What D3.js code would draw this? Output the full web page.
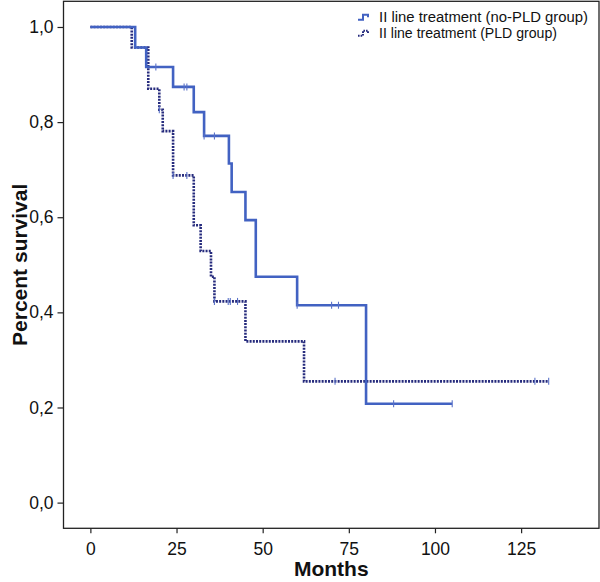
<!DOCTYPE html>
<html><head><meta charset="utf-8">
<script src="https://cdn.jsdelivr.net/npm/d3@7"></script>
<style>body{margin:0;background:#fff}svg{display:block}</style>
</head><body>
<svg id="c" width="600" height="582"></svg>
<script>
// ---- data ----
const seriesNames = ["II line treatment (no-PLD group)", "II line treatment (PLD group)"];
const noPldTimes = [0, 13, 16.2, 24, 30, 33, 40.2, 41, 45, 48, 60, 80];
const noPldSurv  = [1.0, 0.957, 0.916, 0.874, 0.821, 0.771, 0.713, 0.653, 0.594, 0.475, 0.415, 0.208];
const noPldEnd = 105;
const noPldCensor = [19, 27.2, 28, 33, 36, 60, 70, 72, 88, 105];
const pldTimes = [0, 12, 16.8, 20, 21, 24, 30, 32, 35, 36, 45, 62];
const pldSurv  = [1.0, 0.957, 0.870, 0.826, 0.781, 0.688, 0.583, 0.529, 0.475, 0.423, 0.339, 0.255];
const pldEnd = 133;
const pldCensor = [20, 24, 28, 36, 40, 40.6, 42.7, 71, 129, 133];
const xTicks = [0, 25, 50, 75, 100, 125];
const yTicks = [0, 0.2, 0.4, 0.6, 0.8, 1.0];

// ---- drawing ----
const svg = d3.select("#c");
const font = "'Liberation Sans', Arial, Helvetica, sans-serif";
const x = d3.scaleLinear().domain([-7.8, 147.6]).range([63.5, 599]);
const y = d3.scaleLinear().domain([-0.054, 1.054]).range([528.3, 1.3]);
const solidCol = "#4262c2", dotCol = "#262b7d", tickCol = "#5a72c8";

function stepPoints(times, surv, end) {
  const pts = times.map((t, i) => [t, surv[i]]);
  pts.push([end, surv[surv.length - 1]]);
  return pts;
}
function survAt(times, surv, t) {
  let v = surv[0];
  for (let i = 0; i < times.length; i++) if (times[i] <= t) v = surv[i];
  return v;
}
const line = d3.line().x(d => x(d[0])).y(d => y(d[1])).curve(d3.curveStepAfter);

// frame
svg.append("rect").attr("x", x(-7.8)).attr("y", y(1.054))
  .attr("width", x(147.6) - x(-7.8)).attr("height", y(-0.054) - y(1.054))
  .attr("fill", "none").attr("stroke", "#222").attr("stroke-width", 1.3);

// axes
const xAxis = d3.axisBottom(x).tickValues(xTicks).tickSize(5).tickPadding(5).tickFormat(d3.format("d"));
const gx = svg.append("g").attr("transform", `translate(0,${y(-0.054)})`).call(xAxis);
const yAxis = d3.axisLeft(y).tickValues(yTicks).tickSize(6).tickPadding(4)
  .tickFormat(d => d.toFixed(1).replace(".", ","));
const gy = svg.append("g").attr("transform", `translate(${x(-7.8)},0)`).call(yAxis);
[gx, gy].forEach(g => {
  g.select(".domain").remove();
  g.selectAll(".tick line").attr("stroke", "#222").attr("stroke-width", 1.2);
  g.selectAll(".tick text").attr("fill", "#111").style("font-family", font).style("font-size", "17.5px");
});
gx.selectAll(".tick text").attr("dy", "0.95em");

// axis titles
svg.append("text").attr("x", (x(-7.8) + x(147.6)) / 2).attr("y", 576)
  .attr("text-anchor", "middle").style("font-family", font).style("font-size", "21px")
  .style("font-weight", "bold").attr("fill", "#111").text("Months");
svg.append("text").attr("transform", `translate(27,${(y(1.054) + y(-0.054)) / 2}) rotate(-90)`)
  .attr("text-anchor", "middle").style("font-family", font).style("font-size", "21px")
  .style("font-weight", "bold").attr("fill", "#111").text("Percent survival");

// curves
svg.append("path").datum(stepPoints(pldTimes, pldSurv, pldEnd)).attr("d", line)
  .attr("fill", "none").attr("stroke", dotCol).attr("stroke-width", 2.6)
  .attr("stroke-dasharray", "2,1.2");
svg.append("path").datum(stepPoints(noPldTimes, noPldSurv, noPldEnd)).attr("d", line)
  .attr("fill", "none").attr("stroke", solidCol).attr("stroke-width", 2.6);

// censor marks
function censors(times, surv, cts) {
  svg.append("g").selectAll("line").data(cts).join("line")
    .attr("x1", d => x(d)).attr("x2", d => x(d))
    .attr("y1", d => y(survAt(times, surv, d)) - 3.5)
    .attr("y2", d => y(survAt(times, surv, d)) + 3.5)
    .attr("stroke", tickCol).attr("stroke-width", 1.1);
}
censors(noPldTimes, noPldSurv, noPldCensor);
censors(pldTimes, pldSurv, pldCensor);

// legend
const leg = svg.append("g");
const rows = [{y: 16.7, dash: null, col: solidCol, w: 209}, {y: 32.7, dash: "1.6,1", col: dotCol, w: 178}];
rows.forEach((r, i) => {
  const p = d3.path();
  p.moveTo(358, r.y + 3); p.lineTo(363, r.y + 3); p.lineTo(363, r.y - 2);
  p.lineTo(368, r.y - 2); p.lineTo(368, r.y + 0.5);
  leg.append("path").attr("d", p.toString()).attr("fill", "none")
    .attr("stroke", r.col).attr("stroke-width", 2).attr("stroke-dasharray", r.dash);
  leg.append("text").attr("x", 379).attr("y", r.y + 5)
    .style("font-family", font).style("font-size", "14px").attr("fill", "#111")
    .attr("textLength", r.w).attr("lengthAdjust", "spacingAndGlyphs")
    .text(seriesNames[i]);
});
</script>
</body></html>
